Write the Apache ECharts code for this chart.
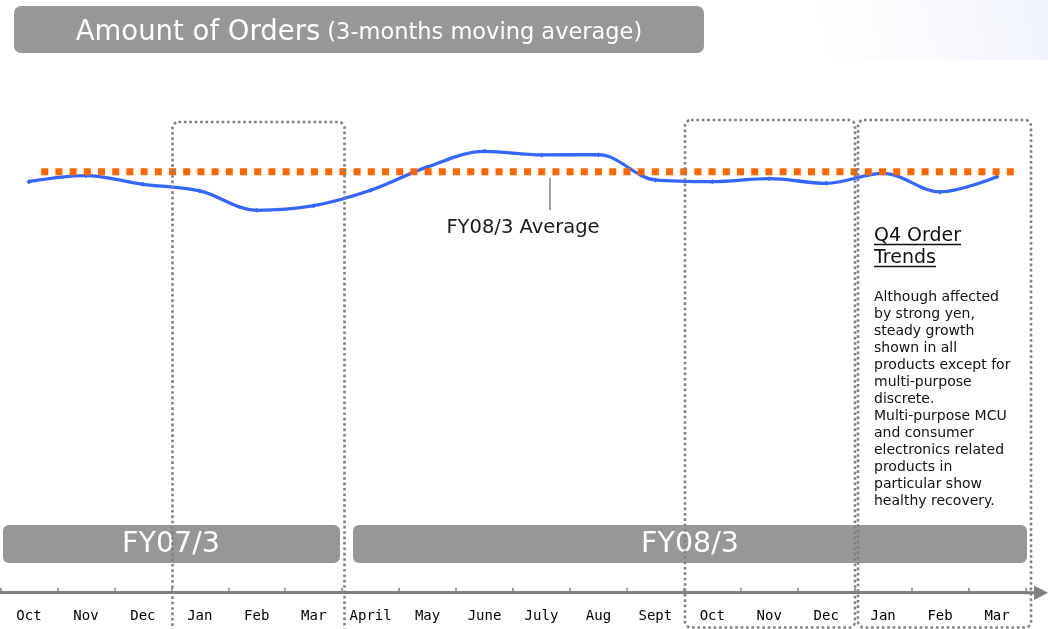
<!DOCTYPE html>
<html>
<head>
<meta charset="utf-8">
<script src="https://cdn.jsdelivr.net/npm/echarts@6/dist/echarts.min.js"></script>
<style>
html,body{margin:0;padding:0;background:#fff;}
#chart{width:1048px;height:629px;}
</style>
</head>
<body>
<div id="chart"></div>
<script>
// ---- data ----
const months = ['Oct','Nov','Dec','Jan','Feb','Mar','April','May','June','July','Aug','Sept','Oct','Nov','Dec','Jan','Feb','Mar'];
const orders = [95.0, 98.0, 93.7, 90.4, 80.7, 83.0, 90.7, 102.4, 110.2, 108.4, 108.5, 95.9, 95.0, 96.5, 94.2, 99.2, 89.9, 97.5];
const fy08Average = 100;
const fiscalYears = ['FY07/3', 'FY08/3'];
const titleMain = 'Amount of Orders';
const titleSub = '(3-months moving average)';
const averageLabel = 'FY08/3 Average';
const noteTitle = ['Q4 Order', 'Trends'];
const noteBody = ['Although affected', 'by strong yen,', 'steady growth', 'shown in all', 'products except for', 'multi-purpose', 'discrete.', 'Multi-purpose MCU', 'and consumer', 'electronics related', 'products in', 'particular show', 'healthy recovery.'];

// ---- helpers ----
function measure(text, font) {
  const c = document.createElement('canvas').getContext('2d');
  c.font = font;
  return c.measureText(text).width;
}

const chart = echarts.init(document.getElementById('chart'), null, {renderer: 'canvas'});
const boxStroke = '#808080';
const dash = [2.6, 2.8];
const headFont = '19px "DejaVu Sans"';

const graphics = [
  // faint background tint top-right
  {type: 'rect', z: -10, shape: {x: 820, y: 0, width: 228, height: 60},
   style: {fill: new echarts.graphic.LinearGradient(0, 1, 1, 0, [
     {offset: 0, color: 'rgba(240,242,252,0)'}, {offset: 1, color: 'rgba(236,239,252,0.7)'}])}},
  // title box
  {type: 'rect', shape: {x: 14, y: 6, width: 690, height: 47, r: 7}, style: {fill: '#979797'}},
  {type: 'text', x: 359, y: 33, style: {
    text: '{a|' + titleMain + '}{s| }{b|' + titleSub + '}', align: 'center', verticalAlign: 'middle',
    rich: {a: {fontSize: 27.5, fontFamily: 'DejaVu Sans', fill: '#fff'},
           s: {fontSize: 22, fontFamily: 'DejaVu Sans', fill: '#fff'},
           b: {fontSize: 22.5, fontFamily: 'DejaVu Sans', fill: '#fff'}}}},
  // fiscal year bars
  {type: 'rect', shape: {x: 3, y: 525, width: 337, height: 38, r: 6}, style: {fill: '#979797'}},
  {type: 'rect', shape: {x: 353, y: 525, width: 674, height: 38, r: 6}, style: {fill: '#979797'}},
  {type: 'text', x: 171, y: 545, style: {text: fiscalYears[0], align: 'center', verticalAlign: 'middle', fontSize: 28.5, fontFamily: 'DejaVu Sans', fill: '#fff'}},
  {type: 'text', x: 690, y: 545, style: {text: fiscalYears[1], align: 'center', verticalAlign: 'middle', fontSize: 28.5, fontFamily: 'DejaVu Sans', fill: '#fff'}},
  // average annotation
  {type: 'line', shape: {x1: 550, y1: 178, x2: 550, y2: 210}, style: {stroke: '#808080', lineWidth: 1.5}},
  {type: 'text', x: 523, y: 228, style: {text: averageLabel, align: 'center', verticalAlign: 'middle', fontSize: 19.5, fontFamily: 'DejaVu Sans', fill: '#1a1a1a'}},
  // axis extension + arrow
  {type: 'line', z: 5, shape: {x1: 1024, y1: 592.7, x2: 1038, y2: 592.7}, style: {stroke: '#808080', lineWidth: 3}},
  {type: 'polygon', z: 5, shape: {points: [[1034, 585.5], [1048, 592.7], [1034, 600]]}, style: {fill: '#808080'}},
  // dotted quarter boxes
  {type: 'rect', z: 20, shape: {x: 172.5, y: 122, width: 172, height: 530, r: 6}, style: {fill: 'none', stroke: boxStroke, lineWidth: 2.6, lineDash: dash}},
  {type: 'rect', z: 20, shape: {x: 685, y: 120, width: 170, height: 507.5, r: 6}, style: {fill: 'none', stroke: boxStroke, lineWidth: 2.6, lineDash: dash}},
  {type: 'rect', z: 20, shape: {x: 858, y: 120, width: 173, height: 507.5, r: 6}, style: {fill: 'none', stroke: boxStroke, lineWidth: 2.6, lineDash: dash}}
];

// note heading with underline
noteTitle.forEach(function (t, i) {
  const cy = 236 + i * 22;
  graphics.push({type: 'text', x: 874, y: cy, style: {text: t, align: 'left', verticalAlign: 'middle', font: headFont, fill: '#111'}});
  graphics.push({type: 'line', shape: {x1: 874, y1: cy + 8.5, x2: 874 + measure(t, headFont), y2: cy + 8.5}, style: {stroke: '#111', lineWidth: 1.3}});
});
graphics.push({type: 'text', x: 874, y: 288.5, style: {
  text: noteBody.join('\n'), align: 'left', verticalAlign: 'top', fontSize: 14, lineHeight: 17, fontFamily: 'DejaVu Sans', fill: '#111'}});

const option = {
  animation: false,
  backgroundColor: '#fff',
  grid: {left: 0.5, width: 1025, top: 121.7, height: 100, containLabel: false},
  xAxis: [{
    type: 'category', data: months, boundaryGap: true, position: 'bottom', offset: 371,
    axisLine: {show: true, lineStyle: {color: '#808080', width: 3}},
    axisTick: {show: true, inside: true, length: 5, lineStyle: {color: '#808080', width: 1.5}},
    axisLabel: {color: '#000', fontSize: 14, fontFamily: '"DejaVu Sans Mono", monospace', margin: 17, interval: 0},
    splitLine: {show: false}
  }, {
    type: 'value', min: 0, max: 18, show: false
  }],
  yAxis: {type: 'value', min: 75, max: 125, show: false, splitLine: {show: false}},
  series: [{
    type: 'line', name: 'Orders', data: orders, xAxisIndex: 0, smooth: 0.35,
    symbol: 'diamond', symbolSize: 5, showSymbol: true, z: 3,
    lineStyle: {color: '#3366ff', width: 3.3}, itemStyle: {color: '#3366ff'}
  }, {
    type: 'line', name: 'FY08/3 Average', xAxisIndex: 1,
    data: [[0.715, fy08Average], [17.86, fy08Average]],
    symbol: 'none', z: 4,
    lineStyle: {color: '#ff6600', width: 7, type: [7, 7.2], cap: 'butt'}
  }],
  graphic: graphics
};
chart.setOption(option);
</script>
</body>
</html>
